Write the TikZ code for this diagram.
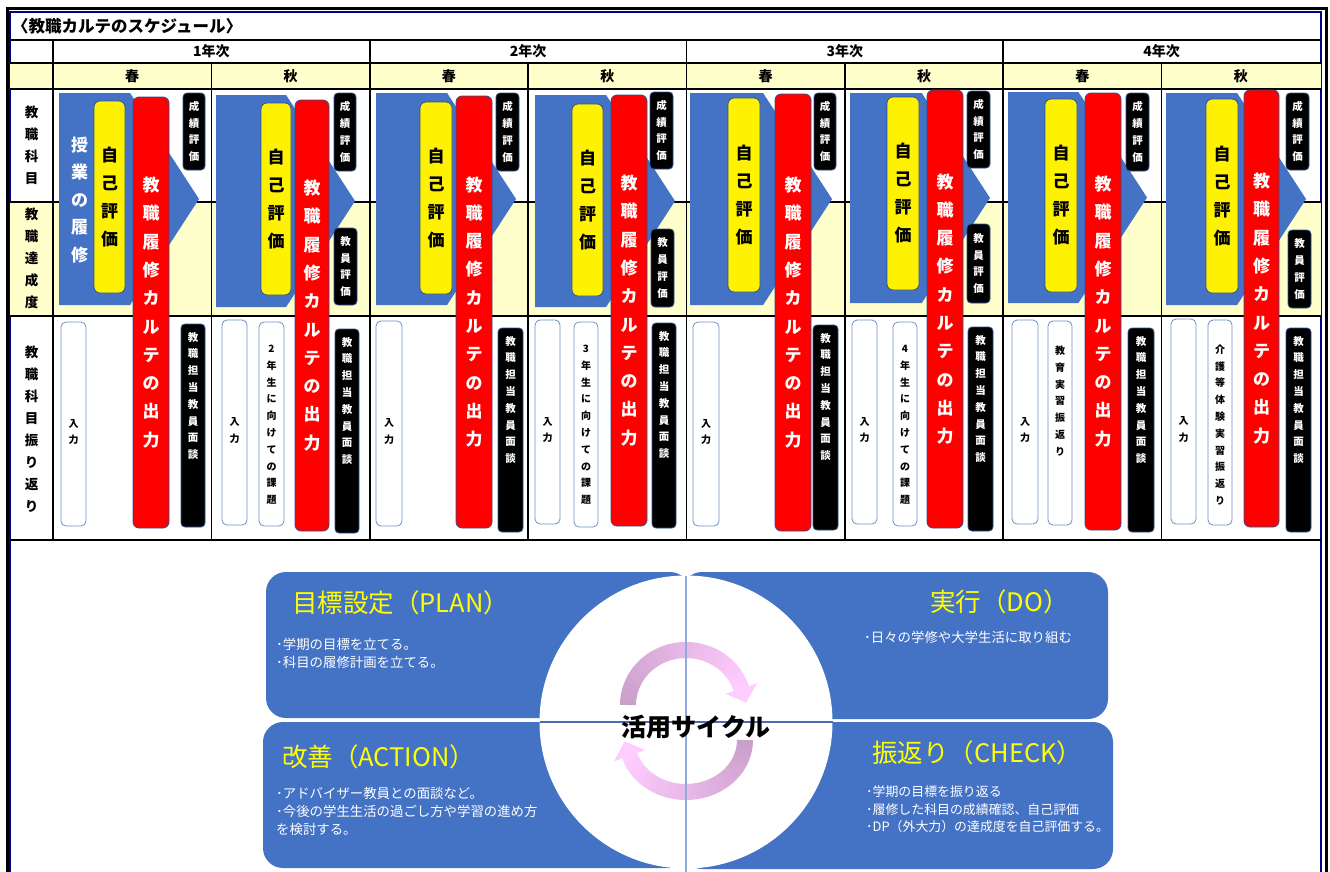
\documentclass[tikz,border=0pt]{standalone}
\usepackage{fontspec}
\setmainfont{Noto Sans CJK JP}
\usetikzlibrary{fit}
\definecolor{tblue}{HTML}{4472C4}
\definecolor{bord}{HTML}{2F528F}
\definecolor{wbord}{HTML}{6F8FC8}
\definecolor{lyel}{HTML}{FFFFCC}
\definecolor{frblue}{HTML}{00008B}
\definecolor{armauve}{HTML}{CB9FCB}
\definecolor{arpink}{HTML}{FFCCFF}
\definecolor{vlinec}{HTML}{8FAADC}
\definecolor{hlinec}{HTML}{4A6DAF}
\definecolor{ttl}{HTML}{FFFF00}
\tikzset{
  cellbox/.style={inner sep=0pt, outer sep=0pt, line width=0.8pt, draw=bord, rounded corners=6pt},
  ybar/.style={cellbox, fill=yellow},
  rbar/.style={cellbox, fill=red},
  kbar/.style={cellbox, fill=black, rounded corners=4pt},
  wbar/.style={cellbox, fill=white, draw=wbord, rounded corners=5pt},
  vtext/.style={inner sep=0pt, align=center},
  ytxt/.style={vtext, font=\fontsize{17}{28}\selectfont\bfseries},
  rtxt/.style={vtext, text=white, font=\fontsize{17}{28.3}\selectfont\bfseries},
  btxt/.style={vtext, text=white, font=\fontsize{17}{27.5}\selectfont\bfseries},
  ktxt/.style={vtext, text=white, font=\fontsize{10.5}{16.8}\selectfont\bfseries},
  wtxt/.style={vtext, font=\fontsize{10}{16.8}\selectfont\bfseries},
  lbl/.style={vtext, font=\fontsize{13.5}{22}\selectfont\bfseries},
  hdr/.style={inner sep=0pt, font=\fontsize{14}{16}\selectfont\bfseries},
  gridline/.style={line width=1.6pt, black},
  cbox/.style={fill=tblue, rounded corners=20pt, inner sep=0pt, outer sep=0pt},
  ctitle/.style={inner sep=0pt, text=ttl, font=\fontsize{25.5}{30}\selectfont},
  cbody/.style={inner sep=0pt, text=white, align=left, font=\fontsize{13.4}{17.5}\selectfont},
}
\newcommand\pent[4]{\fill[tblue] (#1,#2) -- ({#3-0.325*(#4-#2)},#2) -- (#3,{(#2+#4)/2}) -- ({#3-0.325*(#4-#2)},#4) -- (#1,#4) -- cycle;}
\newcommand\bx[6]{\node[#6, fit={(#2,#3) (#4,#5)}] (#1) {};}
\newcommand\cYel[5]{\bx{#1}{#2}{#3}{#4}{#5}{ybar}\node[ytxt] (#1t) at (#1.center) {自\\己\\評\\価};}
\newcommand\cRed[5]{\bx{#1}{#2}{#3}{#4}{#5}{rbar}\node[rtxt] (#1t) at (#1.center) {教\\職\\履\\修\\カ\\ル\\テ\\の\\出\\力};}
\newcommand\cSei[5]{\bx{#1}{#2}{#3}{#4}{#5}{kbar}\node[ktxt] (#1t) at (#1.center) {成\\績\\評\\価};}
\newcommand\cKyo[5]{\bx{#1}{#2}{#3}{#4}{#5}{kbar}\node[ktxt] (#1t) at (#1.center) {教\\員\\評\\価};}
\newcommand\cNyu[5]{\bx{#1}{#2}{#3}{#4}{#5}{wbar}\node[wtxt] (#1t) at ([yshift=-8pt]#1.center) {入\\力};}
\newcommand\cMen[5]{\bx{#1}{#2}{#3}{#4}{#5}{kbar}\node[ktxt] (#1t) at ({(#2+#4)/2},{#3+72}) {教\\職\\担\\当\\教\\員\\面\\談};}
\newcommand\cTop[7]{\bx{#1}{#2}{#3}{#4}{#5}{wbar}\node[wtxt] (#1t) at ({(#2+#4)/2},{#3+#6}) {#7};}
\begin{document}
\begin{tikzpicture}[x=1pt,y=-1pt]
\useasboundingbox (0,0) rectangle (1330,871);
\clip (0,0) rectangle (1330,871);
\fill[white] (0,0) rectangle (1330,871);
% frame
\draw[black, line width=3pt] (7,8) rectangle (1326.5,900);
\draw[frblue, line width=2pt] (10.3,12) rectangle (1320.5,900);
% table fills
\fill[lyel] (10.3,63) rectangle (1320.5,89);
\fill[lyel] (10.3,202) rectangle (1320.5,316);
% grid
\foreach \yy in {40,63,89,202,316,540}{\draw[gridline] (10.3,\yy) -- (1320.5,\yy);}
\foreach \xx in {53,369.75,686.5,1003.25}{\draw[gridline] (\xx,40) -- (\xx,540);}
\foreach \xx in {211.4,528.1,844.9,1161.6}{\draw[gridline] (\xx,63) -- (\xx,540);}
% headers
\node[inner sep=0pt, anchor=west, font=\fontsize{16.5}{18}\selectfont\bfseries] (title) at (12,26) {〈教職カルテのスケジュール〉};
\node[hdr] (y1) at (211.4,51.5) {1年次};
\node[hdr] (y2) at (528.1,51.5) {2年次};
\node[hdr] (y3) at (844.9,51.5) {3年次};
\node[hdr] (y4) at (1161.6,51.5) {4年次};
\foreach \xx/\ss [count=\k] in {132.2/春,290.6/秋,448.9/春,607.3/秋,765.7/春,924.1/秋,1082.4/春,1240.8/秋}{
  \node[hdr] (s\k) at (\xx,76) {\ss};}
\node[lbl] (L1) at (31.5,145.5) {教\\職\\科\\目};
\node[lbl] (L2) at (31.5,258) {教\\職\\達\\成\\度};
\node[lbl] (L3) at (31.5,429.5) {教\\職\\科\\目\\振\\り\\返\\り};
% cell 1 : 1年春
\pent{59}{93}{199}{305}
\node[btxt] (jugyo) at (79.5,200) {授\\業\\の\\履\\修};
\cYel{ya}{94}{101}{125}{293}
\cRed{ra}{133}{97}{169}{528}
\cSei{sa}{183}{93}{205}{170}
\cNyu{na}{61}{322}{86}{526}
\cMen{ma}{181}{324}{205}{527}
% cell 2 : 1年秋
\pent{216}{95}{355}{307}
\cYel{yb}{261}{103}{291}{295}
\cRed{rb}{295}{100}{329}{531}
\cSei{sb}{334}{93}{356}{171}
\cKyo{kb}{334}{228}{357}{305}
\cNyu{nb}{222}{320}{247}{525}
\cTop{tb}{259}{322}{284}{526}{103}{2\\年\\生\\に\\向\\け\\て\\の\\課\\題}
\cMen{mb}{335}{329}{359}{533}
% cell 3 : 2年春
\pent{376}{93}{516}{305}
\cYel{yc}{420}{102}{452}{294}
\cRed{rc}{456}{96}{492}{528}
\cSei{sc}{496}{93}{519}{171}
\cNyu{nc}{376}{321}{402}{526}
\cMen{mc}{498}{328}{523}{532}
% cell 4 : 2年秋
\pent{535}{95}{675}{307}
\cYel{yd}{572}{104}{603}{296}
\cRed{rd}{611}{95}{647}{526}
\cSei{sd}{650}{92}{673}{169}
\cKyo{kd}{651}{229}{674}{307}
\cNyu{nd}{535}{320}{560}{524}
\cTop{td}{574}{322}{598}{527}{103}{3\\年\\生\\に\\向\\け\\て\\の\\課\\題}
\cMen{md}{652}{323}{676}{528}
% cell 5 : 3年春
\pent{690}{93}{832}{305}
\cYel{ye}{728}{98}{760}{292}
\cRed{re}{775}{94}{811}{531}
\cSei{se}{814}{93}{836}{170}
\cNyu{ne}{693}{322}{719}{526}
\cMen{me}{813}{325}{838}{530}
% cell 6 : 3年秋
\pent{850}{93}{990}{303}
\cYel{yf}{887}{97}{919}{290}
\cRed{rf}{927}{90}{963}{528}
\cSei{sf}{967}{91}{990}{168}
\cKyo{kf}{967}{224}{990}{303}
\cNyu{nf}{852}{320}{877}{524}
\cTop{tf}{893}{322}{917}{526}{103}{4\\年\\生\\に\\向\\け\\て\\の\\課\\題}
\cMen{mf}{968}{327}{993}{531}
% cell 7 : 4年春
\pent{1008}{92}{1147}{303}
\cYel{yg}{1045}{99}{1077}{292}
\cRed{rg}{1085}{93}{1121}{530}
\cSei{sg}{1126}{93}{1149}{171}
\cNyu{ng}{1012}{320}{1038}{524}
\cTop{tg}{1048}{321}{1072}{525}{80}{教\\育\\実\\習\\振\\返\\り}
\cMen{mg}{1128}{328}{1154}{532}
% cell 8 : 4年秋
\pent{1166}{93}{1306}{305}
\cYel{yh}{1206}{99}{1238}{293}
\cRed{rh}{1244}{90}{1279}{527}
\cSei{sh}{1286}{93}{1309}{170}
\cKyo{kh}{1288}{230}{1311}{308}
\cNyu{nh}{1171}{319}{1196}{524}
\cTop{th}{1208}{320}{1232}{525}{105}{介\\護\\等\\体\\験\\実\\習\\振\\返\\り}
\cMen{mh}{1286}{328}{1311}{532}
% ---------- cycle ----------
\node[cbox, fit={(266,572) (690,718)}] (plan) {};
\node[cbox, fit={(682,572) (1108,719)}] (do) {};
\node[cbox, fit={(263,722) (690,868)}] (act) {};
\node[cbox, fit={(682,722) (1113,869)}] (chk) {};
\node[circle, fill=white, minimum size=293pt, inner sep=0pt, outer sep=0pt] (cyc) at (686,722) {};
% arrows
\foreach \i in {0,...,29}{
  \pgfmathsetmacro\aa{180-\i*5.4}
  \pgfmathsetmacro\bb{\aa-5.9}
  \pgfmathtruncatemacro\pp{\i*100/29}
  \draw[line width=16pt, color=arpink!\pp!armauve] plot[domain=\aa:\bb, samples=4, variable=\t] ({686+58*cos(\t)},{705-55*sin(\t)});
}
\fill[arpink] (757,683.3) -- (746,702.7) -- (725.6,693.7) -- cycle;
\foreach \i in {0,...,29}{
  \pgfmathsetmacro\aa{-\i*5.4}
  \pgfmathsetmacro\bb{\aa-5.9}
  \pgfmathtruncatemacro\pp{\i*100/29}
  \draw[line width=16pt, color=arpink!\pp!armauve] plot[domain=\aa:\bb, samples=4, variable=\t] ({686+59*cos(\t)},{740-52*sin(\t)});
}
\fill[arpink] (645.2,750) -- (624.6,741.5) -- (614.2,761.2) -- cycle;
\draw[vlinec, line width=1.3pt] (cyc.north) -- ([yshift=-6pt]cyc.south);
\draw[hlinec, line width=1.1pt] (cyc.west) -- (cyc.east);
\node[inner sep=0pt, font=\fontsize{25}{30}\selectfont\bfseries] (katsuyo) at (696,727) {活用サイクル};
% titles
\node[ctitle, anchor=west] (planT) at (292,603) {目標設定（PLAN）};
\node[ctitle, anchor=east] (doT) at (1069,602) {実行（DO）};
\node[ctitle, anchor=west] (actT) at (282,757) {改善（ACTION）};
\node[ctitle, anchor=west] (chkT) at (872,753) {振返り（CHECK）};
\node[cbody, anchor=west] (planB) at (276,653.5) {･学期の目標を立てる。\\･科目の履修計画を立てる。};
\node[cbody, anchor=west] (doB) at (864,637) {･日々の学修や大学生活に取り組む};
\node[cbody, anchor=west, font=\fontsize{13.4}{18}\selectfont] (actB) at (276,811) {･アドバイザー教員との面談など。\\･今後の学生生活の過ごし方や学習の進め方\\を検討する。};
\node[cbody, anchor=west, font=\fontsize{12.9}{17.5}\selectfont] (chkB) at (866,809.5) {･学期の目標を振り返る\\･履修した科目の成績確認、自己評価\\･DP（外大力）の達成度を自己評価する。};
\end{tikzpicture}
\end{document}
